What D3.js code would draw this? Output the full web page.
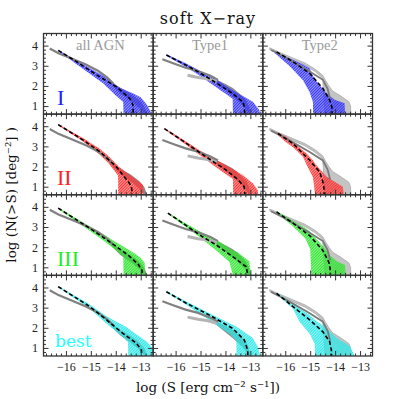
<!DOCTYPE html>
<html><head><meta charset="utf-8">
<script src="https://cdn.jsdelivr.net/npm/d3@7"></script>
<style>body{margin:0;background:#fff}</style>
</head><body><svg id="c" width="399" height="399"></svg>
<script>
// ---------- labels / ticks ----------
const titleText = "soft X\u2212ray";
const colLabels = ["all AGN", "Type1", "Type2"];
const rowLabels = ["I", "II", "III", "best"];
const xTickVals = [-16, -15, -14, -13];
const yTickVals = [1, 2, 3, 4];
const xLabelText = "log (S [erg cm\u207B\u00B2 s\u207B\u00B9])";
const yLabelText = "log (N(>S) [deg\u207B\u00B2] )";

// ---------- observations (gray), per column ----------
const obsAllLine = [[-16.65,3.86],[-16.3,3.62],[-15.7,3.32],[-15.2,3.06],[-14.7,2.74],[-14.35,2.42],[-14.1,2.12]];
const obsAllBand = [[-14.35,2.34,2.46],[-14.1,1.96,2.16],[-13.8,1.6,1.88],[-13.4,1.26,1.6],[-13.05,0.9,1.27],[-12.85,0.6,0.97],[-12.75,0.6,0.62]];
const obsT1Line = [[-16.53,3.32],[-16.1,3.12],[-15.6,2.9],[-15.1,2.74],[-14.6,2.5],[-14.3,2.3]];
const obsT1Light = [[-15.52,2.53],[-15.1,2.42],[-14.7,2.35],[-14.35,2.22]];
const obsT1Band = [[-14.4,2.18,2.34],[-14.0,1.78,2.1],[-13.7,1.48,1.9],[-13.35,1.08,1.52],[-13.15,0.8,1.24],[-13.05,0.6,0.97],[-13.0,0.6,0.62]];
const obsT2Light = [[-16.62,3.79,3.89],[-16.2,3.55,3.65],[-15.7,3.29,3.39],[-15.2,3.02,3.13],[-14.8,2.71,2.83],[-14.5,2.39,2.53],[-14.4,0.6,2.3],[-14.25,0.6,2.0],[-14.1,0.6,1.75],[-13.8,0.6,1.52],[-13.45,0.6,1.22],[-13.38,0.6,1.0],[-13.37,0.6,0.6]];
const obsT2Line = [[-16.57,3.78],[-16.1,3.48],[-15.69,3.2],[-15.02,2.72],[-14.49,2.3],[-14.3,1.85],[-14.2,1.35]];

// ---------- models (dashed) and bands [x, lo, hi] ----------
const modelIAll = [[-16.31,3.76],[-15.57,3.2],[-14.77,2.55],[-13.97,1.95],[-13.44,1.38],[-13.31,1.05],[-13.3,0.6]];
const bandIAll = [[-16.31,3.73,3.8],[-15.6,3.1,3.28],[-15.0,2.57,2.85],[-14.5,2.12,2.5],[-14.0,1.52,2.02],[-13.7,1.2,1.84],[-13.69,0.6,1.83],[-13.3,0.6,1.62],[-13.0,0.6,1.44],[-12.75,0.6,1.07],[-12.6,0.6,0.7]];
const modelIT1 = [[-16.37,3.53],[-15.71,3.12],[-15.04,2.66],[-14.37,2.15],[-13.71,1.62],[-13.3,1.2],[-13.24,0.95],[-13.23,0.6]];
const bandIT1 = [[-16.37,3.49,3.57],[-15.7,3.03,3.18],[-15.04,2.52,2.76],[-14.37,1.93,2.32],[-13.71,1.36,1.78],[-13.7,0.6,1.77],[-13.2,0.6,1.42],[-12.9,0.6,1.22],[-12.65,0.6,0.82],[-12.6,0.6,0.6]];
const modelIT2 = [[-16.35,3.69],[-15.69,3.2],[-15.02,2.62],[-14.49,1.87],[-14.22,1.3],[-14.13,0.95],[-14.12,0.6]];
const bandIT2 = [[-16.44,3.65,3.73],[-15.82,2.97,3.36],[-15.29,2.28,3.06],[-15.02,1.69,2.88],[-14.89,1.2,2.52],[-14.88,0.6,2.47],[-14.69,0.6,2.14],[-14.35,0.6,1.64],[-14.02,0.6,1.31],[-13.62,0.6,1.14],[-13.6,0.6,0.6]];

const modelIIAll = [[-16.31,4.08],[-15.31,3.31],[-14.64,2.74],[-13.97,1.98],[-13.44,1.15],[-13.36,0.9],[-13.35,0.6]];
const bandIIAll = [[-16.31,4.05,4.11],[-15.3,3.23,3.4],[-14.64,2.58,2.88],[-14.3,2.18,2.54],[-13.91,1.56,2.04],[-13.9,0.6,2.02],[-13.31,0.6,1.47],[-12.91,0.6,1.09],[-12.88,0.6,0.6]];
const modelIIT1 = [[-16.45,3.88],[-15.8,3.35],[-15.1,2.75],[-14.5,2.25],[-14.0,1.85],[-13.5,1.35],[-13.25,1.0],[-13.22,0.6]];
const bandIIT1 = [[-16.45,3.85,3.91],[-15.8,3.28,3.42],[-15.1,2.64,2.86],[-14.5,2.08,2.42],[-14.0,1.63,2.07],[-13.7,1.38,1.87],[-13.69,0.6,1.87],[-13.3,0.6,1.57],[-12.9,0.6,1.17],[-12.7,0.6,0.82],[-12.68,0.6,0.6]];
const modelIIT2 = [[-16.29,3.64],[-15.69,3.14],[-15.02,2.31],[-14.62,1.73],[-14.49,1.23],[-14.45,0.95],[-14.44,0.6]];
const bandIIT2 = [[-16.35,3.61,3.71],[-15.96,3.19,3.48],[-15.69,2.96,3.23],[-15.29,2.49,2.8],[-15.16,2.13,2.67],[-14.89,1.47,2.31],[-14.8,0.6,2.14],[-14.35,0.6,1.5],[-14.02,0.6,1.25],[-13.69,0.6,1.0],[-13.65,0.6,0.6]];

const modelIIIAll = [[-16.31,3.94],[-15.5,3.3],[-15.0,2.9],[-14.5,2.48],[-14.0,2.05],[-13.5,1.6],[-13.1,1.15],[-12.95,0.85],[-12.94,0.6]];
const bandIIIAll = [[-16.31,3.91,3.97],[-15.5,3.2,3.36],[-15.0,2.78,3.0],[-14.5,2.33,2.64],[-14.0,1.86,2.26],[-13.7,1.53,2.04],[-13.69,0.6,2.02],[-13.3,0.6,1.74],[-13.0,0.6,1.47],[-12.84,0.6,1.22],[-12.82,0.6,0.6]];
const modelIIIT1 = [[-16.31,3.69],[-15.71,3.19],[-15.04,2.61],[-14.37,2.11],[-13.71,1.53],[-13.17,1.03],[-13.1,0.6]];
const bandIIIT1 = [[-16.31,3.66,3.72],[-15.71,3.11,3.26],[-15.04,2.5,2.79],[-14.37,1.84,2.38],[-13.84,1.26,1.94],[-13.7,0.6,1.82],[-13.57,0.6,1.8],[-13.04,0.6,1.3],[-12.97,0.6,0.6]];
const modelIIIT2 = [[-16.35,3.75],[-15.7,3.2],[-15.0,2.55],[-14.5,1.85],[-14.25,1.25],[-14.2,0.95],[-14.19,0.6]];
const bandIIIT2 = [[-16.35,3.71,3.79],[-15.7,3.04,3.31],[-15.2,2.44,2.96],[-15.0,1.89,2.76],[-14.95,0.6,2.66],[-14.5,0.6,2.07],[-14.2,0.6,1.57],[-13.9,0.6,1.27],[-13.6,0.6,1.12],[-13.58,0.6,0.6]];

const modelBestAll = [[-16.31,4.04],[-15.04,3.05],[-14.37,2.39],[-13.71,1.72],[-13.17,1.23],[-12.97,0.89],[-12.96,0.6]];
const bandBestAll = [[-16.31,4.01,4.07],[-15.04,2.95,3.15],[-14.37,2.2,2.57],[-13.71,1.54,2.12],[-13.51,1.28,1.99],[-13.5,0.6,1.97],[-12.77,0.6,1.32],[-12.5,0.6,0.97]];
const modelBestT1 = [[-16.37,3.79],[-15.57,3.22],[-14.64,2.63],[-13.71,1.97],[-13.24,1.39],[-13.11,0.89],[-13.1,0.6]];
const bandBestT1 = [[-16.37,3.76,3.82],[-15.57,3.14,3.3],[-14.64,2.37,2.72],[-13.84,1.7,2.22],[-13.57,1.37,2.07],[-13.55,0.6,2.05],[-12.91,0.6,1.5],[-12.71,0.6,1.08],[-12.6,0.6,0.6]];
const modelBestT2 = [[-16.35,3.71],[-15.69,3.05],[-15.02,2.39],[-14.49,1.8],[-14.22,1.31],[-14.15,0.89],[-14.14,0.6]];
const bandBestT2 = [[-16.35,3.68,3.75],[-15.69,2.94,3.23],[-15.42,2.29,2.96],[-15.02,1.71,2.64],[-14.82,1.21,2.41],[-14.8,0.6,2.39],[-14.35,0.6,1.99],[-13.95,0.6,1.5],[-13.4,0.6,1.08],[-13.22,0.6,0.6]];

const models = [[modelIAll,modelIT1,modelIT2],[modelIIAll,modelIIT1,modelIIT2],[modelIIIAll,modelIIIT1,modelIIIT2],[modelBestAll,modelBestT1,modelBestT2]];
const bands = [[bandIAll,bandIT1,bandIT2],[bandIIAll,bandIIT1,bandIIT2],[bandIIIAll,bandIIIT1,bandIIIT2],[bandBestAll,bandBestT1,bandBestT2]];

// ---------- layout / style ----------
const svg = d3.select("#c");
const L = 43.5, R = 372.5, T = 33.5, B = 356;
const pw = (R - L) / 3, ph = (B - T) / 4;
const xDomain = [-16.9, -12.5], yDomain = [0.6, 4.6];
const bandColors = ["#3535ff", "#ff3535", "#2ee62e", "#2ee8e8"];
const labelColors = ["#2020ff", "#ff2020", "#22ee22", "#22ffff"];
const xMinor = d3.range(-84, -62).map(v => v / 5).filter(v => !xTickVals.includes(v));
const yMinor = d3.range(4, 23).map(v => v / 5).filter(v => !yTickVals.includes(v));
const fmt = d3.format("d");

const defs = svg.append("defs");
bandColors.forEach((c, i) => {
  const p = defs.append("pattern").attr("id", "h" + i).attr("patternUnits", "userSpaceOnUse")
    .attr("width", 2).attr("height", 2).attr("patternTransform", "rotate(45)");
  p.append("rect").attr("width", 2).attr("height", 2).attr("fill", c).attr("fill-opacity", 0.5);
  p.append("line").attr("x1", 0.5).attr("y1", 0).attr("x2", 0.5).attr("y2", 2).attr("stroke", c).attr("stroke-width", 1);
});

function styleAxis(g) {
  g.select(".domain").remove();
  g.selectAll(".tick line").attr("stroke", "#333").attr("stroke-width", 1);
  g.selectAll(".tick text").attr("font-family", "'Liberation Serif', serif").attr("font-size", 12).attr("fill", "#222");
}

for (let r = 0; r < 4; r++) {
  for (let c = 0; c < 3; c++) {
    const x0 = L + c * pw, y0 = T + r * ph;
    const xs = d3.scaleLinear().domain(xDomain).range([x0, x0 + pw]);
    const ys = d3.scaleLinear().domain(yDomain).range([y0 + ph, y0]);
    const id = "cp" + r + c;
    defs.append("clipPath").attr("id", id).append("rect").attr("x", x0).attr("y", y0).attr("width", pw).attr("height", ph);
    const g = svg.append("g").attr("clip-path", `url(#${id})`);
    const area = d3.area().x(d => xs(d[0])).y0(d => ys(d[1])).y1(d => ys(d[2]));
    const line = d3.line().x(d => xs(d[0])).y(d => ys(d[1]));

    // observed bands
    if (c === 0) g.append("path").attr("d", area(obsAllBand)).attr("fill", "#8c8c8c");
    if (c === 1) g.append("path").attr("d", area(obsT1Band)).attr("fill", "#8c8c8c");
    if (c === 2) g.append("path").attr("d", area(obsT2Light)).attr("fill", "#c4c4c4").attr("stroke", "#aaa").attr("stroke-width", 0.8);

    // model band
    g.append("path").attr("d", area(bands[r][c])).attr("fill", `url(#h${r})`);

    // observed lines
    if (c === 0) g.append("path").attr("d", line(obsAllLine)).attr("fill", "none").attr("stroke", "#808080").attr("stroke-width", 2.2);
    if (c === 1) {
      g.append("path").attr("d", line(obsT1Line)).attr("fill", "none").attr("stroke", "#808080").attr("stroke-width", 2.2);
      g.append("path").attr("d", line(obsT1Light)).attr("fill", "none").attr("stroke", "#b4b4b4").attr("stroke-width", 3);
    }
    if (c === 2) g.append("path").attr("d", line(obsT2Line)).attr("fill", "none").attr("stroke", "#7a7a7a").attr("stroke-width", 1.8);

    // model dashed
    g.append("path").attr("d", line(models[r][c])).attr("fill", "none").attr("stroke", "#000")
      .attr("stroke-width", 1.6).attr("stroke-dasharray", "4 2.5");

    // ticks on four sides (inward)
    const ax = [
      [d3.axisBottom(xs).tickValues(xTickVals).tickSize(-5).tickPadding(6).tickFormat(r === 3 ? fmt : ""), `translate(0,${y0 + ph})`],
      [d3.axisBottom(xs).tickValues(xMinor).tickSize(-2.5).tickFormat(""), `translate(0,${y0 + ph})`],
      [d3.axisTop(xs).tickValues(xTickVals).tickSize(-5).tickFormat(""), `translate(0,${y0})`],
      [d3.axisTop(xs).tickValues(xMinor).tickSize(-2.5).tickFormat(""), `translate(0,${y0})`],
      [d3.axisLeft(ys).tickValues(yTickVals).tickSize(-5).tickPadding(5.5).tickFormat(c === 0 ? fmt : ""), `translate(${x0},0)`],
      [d3.axisLeft(ys).tickValues(yMinor).tickSize(-2.5).tickFormat(""), `translate(${x0},0)`],
      [d3.axisRight(ys).tickValues(yTickVals).tickSize(-5).tickFormat(""), `translate(${x0 + pw},0)`],
      [d3.axisRight(ys).tickValues(yMinor).tickSize(-2.5).tickFormat(""), `translate(${x0 + pw},0)`]
    ];
    ax.forEach(([a, tr]) => svg.append("g").attr("transform", tr).call(a).call(styleAxis));

    svg.append("rect").attr("x", x0).attr("y", y0).attr("width", pw).attr("height", ph)
      .attr("fill", "none").attr("stroke", "#333").attr("stroke-width", 1.3);

    if (r === 0) {
      svg.append("text").attr("x", x0 + pw / 2 + 2).attr("y", y0 + 16.5).attr("text-anchor", "middle")
        .attr("font-family", "'Liberation Serif', serif").attr("font-size", 14.5).attr("fill", "#9a9a9a")
        .text(colLabels[c]);
    }
    if (c === 0) {
      const isWord = rowLabels[r] === "best";
      svg.append("text").attr("x", x0 + (isWord ? 11.5 : 13.5)).attr("y", y0 + ph - 9.5)
        .attr("font-family", isWord ? "'DejaVu Serif', serif" : "'Liberation Serif', serif")
        .attr("font-size", isWord ? 17 : 22).attr("fill", labelColors[r]).text(rowLabels[r]);
    }
  }
}

svg.append("text").attr("x", (L + R) / 2).attr("y", 24).attr("text-anchor", "middle")
  .attr("font-family", "'DejaVu Serif', serif").attr("font-size", 16).attr("letter-spacing", 1)
  .attr("fill", "#111").text(titleText);
svg.append("text").attr("x", (L + R) / 2).attr("y", 392).attr("text-anchor", "middle")
  .attr("font-family", "'DejaVu Serif', serif").attr("font-size", 13.5).attr("fill", "#111").text(xLabelText);
svg.append("text").attr("transform", `translate(16,${(T + B) / 2}) rotate(-90)`).attr("text-anchor", "middle")
  .attr("font-family", "'DejaVu Serif', serif").attr("font-size", 13.5).attr("fill", "#111").text(yLabelText);
</script></body></html>
